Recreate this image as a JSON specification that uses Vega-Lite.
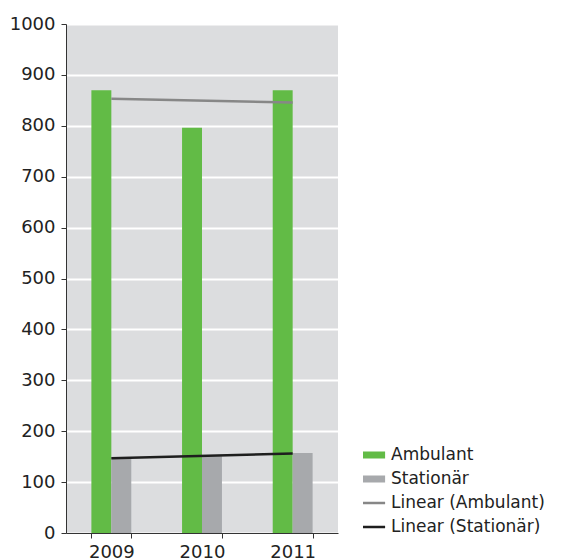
{
  "$schema": "https://vega.github.io/schema/vega-lite/v6.json",
  "width": 272,
  "height": 509,
  "autosize": {"type": "none"},
  "padding": {"left": 66, "top": 24, "right": 223, "bottom": 27},
  "datasets": {
    "bars": [
      {"year": "2009", "series": "Ambulant", "value": 870},
      {"year": "2009", "series": "Stationär", "value": 148},
      {"year": "2010", "series": "Ambulant", "value": 796},
      {"year": "2010", "series": "Stationär", "value": 151},
      {"year": "2011", "series": "Ambulant", "value": 870},
      {"year": "2011", "series": "Stationär", "value": 157}
    ],
    "trends": [
      {"year": "2009", "series": "Linear (Ambulant)", "value": 853},
      {"year": "2011", "series": "Linear (Ambulant)", "value": 846},
      {"year": "2009", "series": "Linear (Stationär)", "value": 147},
      {"year": "2011", "series": "Linear (Stationär)", "value": 156}
    ]
  },
  "config": {
    "view": {"stroke": null, "fill": "#dcdddf"},
    "font": "DejaVu Sans",
    "axis": {
      "labelFont": "DejaVu Sans",
      "labelFontSize": 18,
      "labelColor": "#222222",
      "domainColor": "#333333",
      "tickColor": "#333333",
      "tickSize": 5,
      "title": null
    }
  },
  "encoding": {
    "x": {
      "field": "year",
      "type": "nominal",
      "scale": {"paddingInner": 0.56, "paddingOuter": 0.28},
      "axis": {"labelAngle": 0, "tickBand": "extent", "labelPadding": 5, "grid": false}
    },
    "y": {
      "field": "value",
      "type": "quantitative",
      "scale": {"domain": [0, 1000], "nice": false},
      "axis": {
        "values": [0, 100, 200, 300, 400, 500, 600, 700, 800, 900, 1000],
        "format": "d",
        "grid": true,
        "gridColor": "#ffffff",
        "gridWidth": 2,
        "labelPadding": 6
      }
    },
    "color": {
      "field": "series",
      "type": "nominal",
      "scale": {
        "domain": ["Ambulant", "Stationär", "Linear (Ambulant)", "Linear (Stationär)"],
        "range": ["#62bb46", "#a7a9ac", "#878787", "#1e1e1e"]
      },
      "legend": {
        "title": null,
        "orient": "none",
        "legendX": 297,
        "legendY": 419,
        "padding": 0,
        "symbolType": "stroke",
        "symbolSize": 740,
        "labelOffset": 11,
        "labelFont": "DejaVu Sans",
        "labelFontSize": 17,
        "labelColor": "#222222",
        "rowPadding": 0,
        "clipHeight": 24,
        "symbolOpacity": 1,
        "encode": {
          "symbols": {
            "update": {
              "stroke": {"scale": "color", "field": "value"},
              "strokeWidth": {"signal": "datum.index < 2 ? 7 : 2.5"}
            }
          }
        }
      }
    }
  },
  "layer": [
    {
      "data": {"name": "bars"},
      "mark": {"type": "bar", "opacity": 1},
      "encoding": {
        "xOffset": {"field": "series", "type": "nominal", "scale": {"domain": ["Ambulant", "Stationär"], "paddingInner": 0, "paddingOuter": 0}}
      }
    },
    {
      "data": {"name": "trends"},
      "mark": {"type": "line", "strokeWidth": 2.5},
      "encoding": {"detail": {"field": "series"}}
    }
  ]
}
